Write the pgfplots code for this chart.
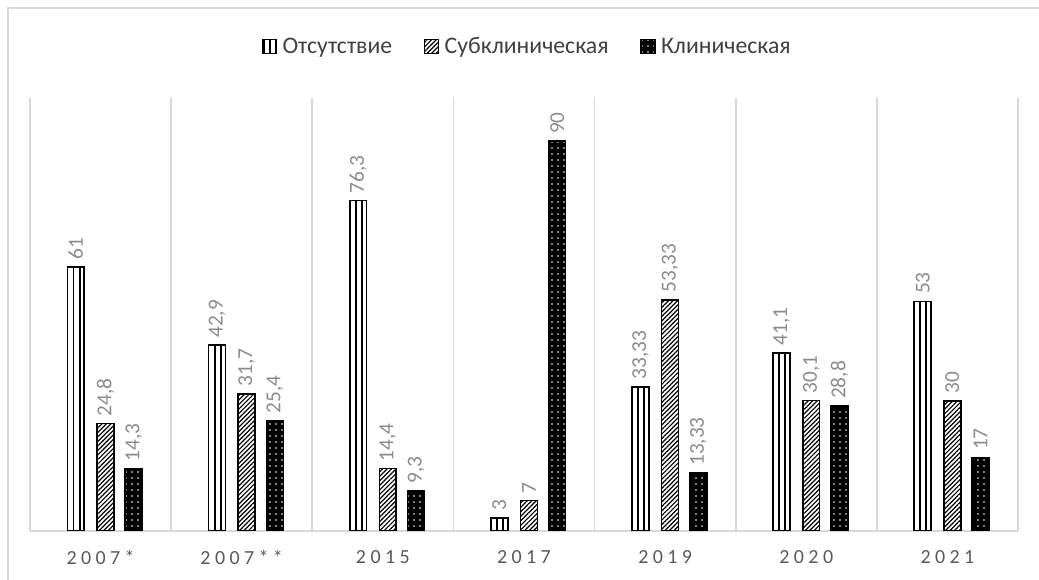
\documentclass[border=0pt]{standalone}
\usepackage{fontspec}
\setmainfont{Carlito}
\newfontfamily\tickfont[LetterSpace=22]{Carlito}
\usepackage{pgfplots}
\pgfplotsset{compat=1.18}
\usetikzlibrary{patterns.meta}
\definecolor{framegray}{HTML}{D9D9D9}
\definecolor{labelgray}{HTML}{8C8C8C}
\definecolor{tickgray}{HTML}{595959}
\definecolor{legendgray}{HTML}{404040}

% share of each form per study
\pgfplotstableread{
x  absent subclin clin
0  61     24.8    14.3
1  42.9   31.7    25.4
2  76.3   14.4    9.3
3  3      7       90
4  33.33  53.33   13.33
5  41.1   30.1    28.8
6  53     30      17
}\datatable

\pgfplotsset{
  squarelegend/.style={legend image code/.code={
    \draw[##1, line width=0.9pt] (0pt,-5.25pt) rectangle (10.5pt,5.25pt);}},
}

\begin{document}
\begin{tikzpicture}[x=0.75pt,y=0.75pt]
\useasboundingbox (-30,-49) rectangle (1009,531);
\draw[framegray, line width=1.2pt] (-22,-49) -- (-22,523) -- (1009,523);
\begin{axis}[
  at={(0,0)}, anchor=south west, scale only axis,
  width=741pt, height=324.75pt,
  ymin=0, ymax=100, xmin=-0.5, xmax=6.5,
  axis y line=none, axis x line*=bottom,
  x axis line style={framegray, line width=1.2pt, -},
  xtick={0,...,6},
  xticklabels={2007*,2007**,2015,2017,2019,2020,2021},
  major tick length=0pt, minor tick length=0pt,
  minor xtick={-0.5,0.5,...,6.5},
  xminorgrids, minor grid style={framegray, line width=1.2pt},
  xticklabel style={font=\tickfont\fontsize{15}{18}\selectfont, text=tickgray, yshift=-11pt},
  ybar=0pt, bar width=0.12,
  /pgf/number format/.cd, use comma, assume math mode=true, precision=2,
  /pgfplots/.cd,
  nodes near coords,
  every node near coord/.append style={rotate=90, anchor=west,
    font=\fontsize{16}{19}\selectfont, text=labelgray, inner xsep=5pt},
  legend columns=3,
  legend style={at={(0.503,1.118)}, anchor=center, draw=none, fill=none,
    font=\fontsize{17.8}{21}\selectfont, text=legendgray,
    /tikz/every odd column/.append style={column sep=3pt},
    /tikz/every even column/.append style={column sep=23pt},
    nodes={inner sep=1pt}},
]
\addplot[squarelegend, bar shift=-0.175, draw=black, fill=white, line width=1.3pt,
  postaction={pattern={Lines[angle=90, distance=4.6pt, line width=1.3pt]}}]
  table[x=x, y=absent] {\datatable};
\addlegendentry{Отсутствие}
\addplot[squarelegend, bar shift=0.035, draw=black, fill=white, line width=1.2pt,
  postaction={pattern={Lines[angle=45, distance=2.4pt, line width=0.9pt]}}]
  table[x=x, y=subclin] {\datatable};
\addlegendentry{Субклиническая}
\addplot[squarelegend, bar shift=0.235, draw=black, fill=black, line width=1.2pt,
  postaction={pattern={Dots[distance=4.5pt, radius=0.6pt]}, pattern color=white}]
  table[x=x, y=clin] {\datatable};
\addlegendentry{Клиническая}
\end{axis}
\end{tikzpicture}
\end{document}
